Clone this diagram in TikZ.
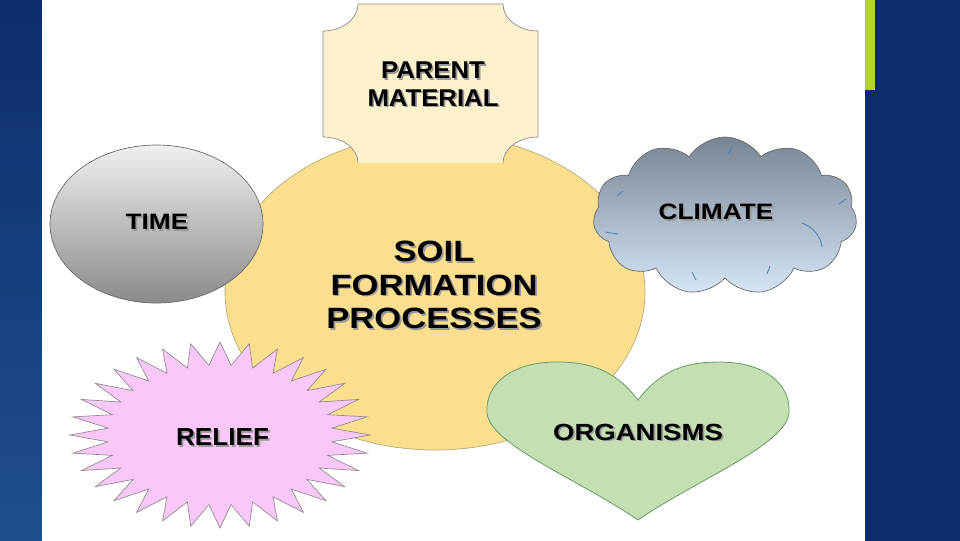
\documentclass[tikz,border=0pt]{standalone}
\usepackage{fontspec}
\usetikzlibrary{shapes.geometric,shapes.symbols}
\newfontfamily\widefont[FakeStretch=1.18]{Liberation Sans}
\newfontfamily\plainfont[FakeStretch=1.06]{Liberation Sans}
\newcommand\shtxt[1]{\rlap{\hspace{1.3pt}\raisebox{-1.3pt}{\color{black!40}#1}}#1}
\definecolor{navy}{RGB}{14,44,108}
\definecolor{navylight}{RGB}{30,80,140}
\definecolor{lime}{RGB}{178,210,52}
\definecolor{soilfill}{RGB}{252,223,142}
\definecolor{soildraw}{RGB}{185,165,115}
\definecolor{parentfill}{RGB}{253,240,204}
\definecolor{timetop}{RGB}{240,240,240}
\definecolor{timebot}{RGB}{138,138,138}
\definecolor{cloudtop}{RGB}{120,132,146}
\definecolor{cloudbot}{RGB}{214,230,246}
\definecolor{cloudline}{RGB}{70,130,190}
\definecolor{relieffill}{RGB}{250,200,248}
\definecolor{orgfill}{RGB}{197,222,178}

\begin{document}
\begin{tikzpicture}[x=0.75pt,y=0.75pt,yscale=-1,xscale=1,
  hubshape/.style={fill=soilfill,draw=soildraw,line width=0.5pt},
  parentshape/.style={draw=black!45,line width=0.5pt},
  timeshape/.style={top color=timetop,bottom color=timebot,draw=black!60,line width=0.5pt},
  cloudshape/.style={cloud,cloud puffs=11,cloud puff arc=115,cloud ignores aspect,
    top color=cloudtop,bottom color=cloudbot,draw=black!60,line width=0.5pt},
  puffline/.style={draw=cloudline,line width=0.6pt},
  burst/.style={fill=relieffill,draw=black!45,line width=0.5pt},
  orgshape/.style={fill=orgfill,draw=black!65!green!60,line width=0.6pt},
  lbl/.style={inner sep=0pt,align=center,text=black}]
\useasboundingbox (0,0) rectangle (960,540);

% background
\shade[top color=navy,bottom color=navylight] (0,0) rectangle (42,540);
\shade[top color=navy,middle color=navylight,bottom color=navy] (865,0) rectangle (960,540);
\fill[white] (42,0) rectangle (865,540);
\fill[lime] (865,0) rectangle (875,90);

%Shape: Ellipse [hub]
\draw[hubshape] (435,292) ellipse [x radius=210, y radius=158];

%Shape: Plaque [parent]
\fill[parentfill] (358,4) -- (503,4) .. controls (503,18.9) and (518.7,31) .. (538,31) -- (538,137) .. controls (518.7,137) and (503,148.6) .. (503,163) -- (358,163) .. controls (358,148.6) and (342.3,137) .. (323,137) -- (323,31) .. controls (342.3,31) and (358,18.9) .. (358,4) -- cycle;
\draw[parentshape] (503,163) .. controls (503,148.6) and (518.7,137) .. (538,137) -- (538,31) .. controls (518.7,31) and (503,18.9) .. (503,4) -- (358,4) .. controls (358,18.9) and (342.3,31) .. (323,31) -- (323,137) .. controls (342.3,137) and (358,148.6) .. (358,163);

%Shape: Ellipse [time]
\shade[timeshape] (156.5,224) ellipse [x radius=106.5, y radius=79];

%Shape: Cloud [climate]
\node[cloudshape,minimum width=198pt,minimum height=118.5pt] (cloud) at (725,216) {};
%Lines: puff edges
\draw[puffline] (728,154) -- (732,147);
\draw[puffline] (846,199) -- (839,204);
\draw[puffline] (802,223) .. controls (815,228) and (821,238) .. (822,247);
\draw[puffline] (770,266) -- (767,274);
\draw[puffline] (692,272) -- (696,280);
\draw[puffline] (605,232) -- (618,234);
\draw[puffline] (623,191) -- (617,196);

%Shape: 32-point star [relief]
\begin{scope}[shift={(220,435)}]
\draw[burst] (0:150 and 93) \foreach \a in {0,11.25,...,348.75}{ -- (\a:150 and 93) -- (\a+5.625:112.5 and 70)} -- cycle;
\end{scope}

%Shape: Heart [organisms]
\draw[orgshape] (638,400) .. controls (615,370) and (590,362) .. (557,362) .. controls (510,362) and (485,385) .. (487,413) .. controls (490,445) and (580,480) .. (638,520) .. controls (696,480) and (786,445) .. (789,413) .. controls (791,385) and (766,362) .. (719,362) .. controls (686,362) and (661,370) .. (638,400) -- cycle;

% Text Node
\node[lbl,font=\widefont\bfseries\fontsize{22}{25}\selectfont] (soil) at (434,286) {\shtxt{SOIL}\\\shtxt{FORMATION}\\\shtxt{PROCESSES}};
% Text Node
\node[lbl,font=\plainfont\bfseries\fontsize{18.2}{20.5}\selectfont] (parent) at (433,85) {\shtxt{PARENT}\\\shtxt{MATERIAL}};
% Text Node
\node[lbl,font=\widefont\bfseries\fontsize{16.7}{20}\selectfont] (time) at (157,223) {\shtxt{TIME}};
% Text Node
\node[lbl,font=\widefont\bfseries\fontsize{16.7}{20}\selectfont] (climate) at (716,213) {\shtxt{CLIMATE}};
% Text Node
\node[lbl,font=\plainfont\bfseries\fontsize{18.5}{22}\selectfont] (relief) at (222.5,438) {\shtxt{RELIEF}};
% Text Node
\node[lbl,font=\widefont\bfseries\fontsize{17.5}{21}\selectfont] (organisms) at (638,433) {\shtxt{ORGANISMS}};

\end{tikzpicture}
\end{document}
